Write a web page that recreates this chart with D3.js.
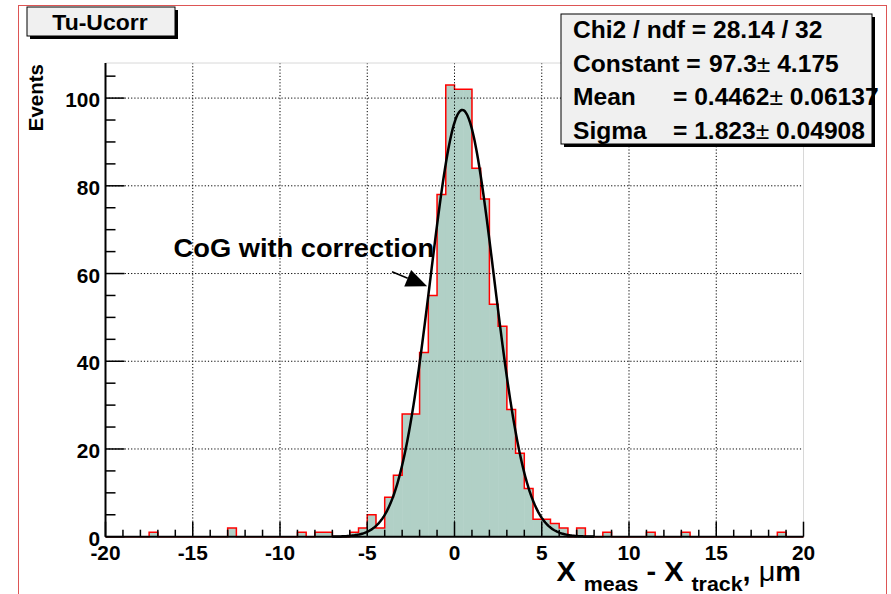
<!DOCTYPE html>
<html>
<head>
  <script src="https://cdn.jsdelivr.net/npm/d3@7"></script>
  <style>
    body { margin: 0; background: #fff; }
    text { font-family: "Liberation Sans", Arial, sans-serif; font-weight: bold; fill: #000; }
  </style>
</head>
<body>
  <div id="chartArea"></div>
  <script>
    // histogram: lower edge of each non-empty bin and its content
    let binWidth = 0.5;
    let binLow = [-17.5, -13, -9, -8, -7.5, -6, -5.5, -5, -4.5, -4, -3.5, -3, -2.5, -2, -1.5, -1, -0.5,
      0, 0.5, 1, 1.5, 2, 2.5, 3, 3.5, 4, 4.5, 5, 5.5, 6, 7, 8.5, 11, 13, 18.5];
    let counts = [1, 2, 1, 1, 1, 1, 2, 5, 2, 9, 14, 28, 28, 42, 55, 78, 103,
      102, 102, 84, 77, 53, 48, 29, 19, 11, 4, 4, 3, 2, 2, 1, 1, 1, 1];

    // gaussian fit parameters: constant, mean, sigma
    let fitPars = [97.3, 0.4462, 1.823];
    let fitRange = [-7, 8];

    let xTicks = [-20, -15, -10, -5, 0, 5, 10, 15, 20];
    let yTicks = [0, 20, 40, 60, 80, 100];
    let statsLabels = ['Chi2 / ndf = 28.14 / 32', 'Constant =', 'Mean', 'Sigma'];
    let statsValues = [null, ['97.3', '4.175'], ['= 0.4462', '0.06137'], ['= 1.823', '0.04908']];

    let W = 891, H = 594;
    let frame = { left: 105.5, right: 803.5, top: 63, bottom: 536.7 };

    let x = d3.scaleLinear().domain([-20, 20]).range([frame.left, frame.right]);
    let y = d3.scaleLinear().domain([0, 108]).range([frame.bottom, frame.top]);

    let svg = d3.select('#chartArea').append('svg')
      .attr('width', W)
      .attr('height', H);

    function txt(g, px, py, str, size, anchor) {
      return g.append('text')
        .attr('transform', `translate(${px},${py}) scale(1.07,1)`)
        .attr('font-size', size)
        .attr('text-anchor', anchor || 'start')
        .text(str);
    }

    // pad border
    svg.append('rect')
      .attr('x', 18.5).attr('y', 5.5)
      .attr('width', 868).attr('height', 600)
      .attr('fill', 'none')
      .attr('stroke', '#dd5555');

    // full bin table
    let nBins = 80;
    let full = d3.range(nBins).map(i => ({ lo: -20 + i * binWidth, c: 0 }));
    binLow.forEach((b, i) => {
      full[Math.round((b + 20) / binWidth)].c = counts[i];
    });

    svg.append('g').selectAll('rect')
      .data(full.filter(d => d.c > 0))
      .enter()
      .append('rect')
      .attr('x', d => x(d.lo))
      .attr('y', d => y(d.c))
      .attr('width', d => x(d.lo + binWidth) - x(d.lo) + 0.5)
      .attr('height', d => y(0) - y(d.c))
      .attr('fill', '#b1d0c6');

    // outline
    let pts = [[x(-20), y(0)]];
    full.forEach(d => {
      pts.push([x(d.lo), y(d.c)]);
      pts.push([x(d.lo + binWidth), y(d.c)]);
    });
    pts.push([x(20), y(0)]);
    svg.append('path')
      .attr('d', d3.line()(pts))
      .attr('fill', 'none')
      .attr('stroke', '#ff0000')
      .attr('stroke-width', 1.5);

    // grid
    let grid = svg.append('g')
      .attr('stroke', '#000')
      .attr('stroke-width', 1)
      .attr('stroke-dasharray', '1.2,2');
    grid.selectAll('.gx')
      .data(xTicks.slice(1, -1))
      .enter()
      .append('line')
      .attr('x1', d => x(d)).attr('x2', d => x(d))
      .attr('y1', frame.top).attr('y2', frame.bottom);
    grid.selectAll('.gy')
      .data(yTicks.slice(1))
      .enter()
      .append('line')
      .attr('x1', frame.left).attr('x2', frame.right)
      .attr('y1', d => y(d)).attr('y2', d => y(d));

    // frame top/right
    svg.append('path')
      .attr('d', `M${frame.left},${frame.top}H${frame.right}V${frame.bottom}`)
      .attr('fill', 'none')
      .attr('stroke', '#d8d8d8');

    // fit curve
    let gaus = v => fitPars[0] * Math.exp(-0.5 * Math.pow((v - fitPars[1]) / fitPars[2], 2));
    let fx = d3.range(fitRange[0], fitRange[1] + 0.001, 0.05);
    svg.append('path')
      .attr('d', d3.line().x(v => x(v)).y(v => y(gaus(v)))(fx))
      .attr('fill', 'none')
      .attr('stroke', '#000')
      .attr('stroke-width', 2.5);

    // axes
    let axes = svg.append('g').attr('stroke', '#000');
    axes.append('line')
      .attr('x1', frame.left).attr('x2', frame.right)
      .attr('y1', frame.bottom).attr('y2', frame.bottom)
      .attr('stroke-width', 2);
    axes.append('line')
      .attr('x1', frame.left).attr('x2', frame.left)
      .attr('y1', frame.top).attr('y2', frame.bottom)
      .attr('stroke-width', 2);

    let xMinor = d3.range(-20, 20.5, 1);
    axes.selectAll('.tx')
      .data(xMinor)
      .enter()
      .append('line')
      .attr('x1', d => x(d)).attr('x2', d => x(d))
      .attr('y1', frame.bottom)
      .attr('y2', d => frame.bottom - (d % 5 === 0 ? 15 : 7))
      .attr('stroke-width', 1.5);

    let yMinor = d3.range(0, 106, 5);
    axes.selectAll('.ty')
      .data(yMinor)
      .enter()
      .append('line')
      .attr('y1', d => y(d)).attr('y2', d => y(d))
      .attr('x1', frame.left)
      .attr('x2', d => frame.left + (d % 20 === 0 ? 19 : 10))
      .attr('stroke-width', 1.5);

    xTicks.forEach(t => txt(svg, x(t), 560, t, 19.5, 'middle'));
    yTicks.forEach(t => txt(svg, 100, y(t) + 9, t, 19.5, 'end'));

    // axis titles
    svg.append('text')
      .attr('transform', 'translate(43,64) rotate(-90)')
      .attr('font-size', 20.5)
      .attr('text-anchor', 'end')
      .text('Events');

    let xt = svg.append('text')
      .attr('transform', 'translate(801,581) scale(1.07,1)')
      .attr('text-anchor', 'end')
      .attr('font-size', 27);
    xt.append('tspan').text('X ');
    xt.append('tspan').attr('font-size', 20).attr('dy', 10).text('meas');
    xt.append('tspan').attr('dy', -10).text(' - X ');
    xt.append('tspan').attr('font-size', 20).attr('dy', 10).text('track');
    xt.append('tspan').attr('dy', -10).text(', ');
    xt.append('tspan').attr('font-weight', 'normal').text('\u03bc');
    xt.append('tspan').text('m');

    // annotation
    txt(svg, x(-16.1), y(63.8), 'CoG with correction', 25.5, 'start');
    let a0 = [x(-3.58), y(60.4)], a1 = [x(-1.57), y(57.1)];
    let ang = Math.atan2(a1[1] - a0[1], a1[0] - a0[0]);
    let hl = 21, hw = 9;
    let base = [a1[0] - hl * Math.cos(ang), a1[1] - hl * Math.sin(ang)];
    svg.append('line')
      .attr('x1', a0[0]).attr('y1', a0[1])
      .attr('x2', base[0]).attr('y2', base[1])
      .attr('stroke', '#000').attr('stroke-width', 1.5);
    svg.append('path')
      .attr('d', d3.line()([a1,
        [base[0] + hw * Math.sin(ang), base[1] - hw * Math.cos(ang)],
        [base[0] - hw * Math.sin(ang), base[1] + hw * Math.cos(ang)]]) + 'Z')
      .attr('fill', '#000');

    // stats box
    let sb = { x: 561, y: 14, w: 311, h: 130 };
    svg.append('rect')
      .attr('x', sb.x + 3).attr('y', sb.y + 3)
      .attr('width', sb.w).attr('height', sb.h)
      .attr('fill', '#000');
    svg.append('rect')
      .attr('x', sb.x).attr('y', sb.y)
      .attr('width', sb.w).attr('height', sb.h)
      .attr('fill', '#f0f0f0')
      .attr('stroke', '#000');
    let valX = [0, 709, 673, 673];
    statsLabels.forEach((s, i) => {
      let by = 38 + i * 33.7;
      txt(svg, 573, by, s, 23, 'start');
      let v = statsValues[i];
      if (v) {
        let t = txt(svg, valX[i], by, '', 23, 'start');
        t.append('tspan').text(v[0]);
        t.append('tspan').attr('font-weight', 'normal').text('\u00b1');
        t.append('tspan').text(' ' + v[1]);
      }
    });

    // title box
    svg.append('rect')
      .attr('x', 30).attr('y', 10)
      .attr('width', 148).attr('height', 29)
      .attr('fill', '#000');
    svg.append('rect')
      .attr('x', 27).attr('y', 7)
      .attr('width', 148).attr('height', 29)
      .attr('fill', '#f0f0f0')
      .attr('stroke', '#000');
    txt(svg, 100, 30, 'Tu-Ucorr', 21.5, 'middle');
  </script>
</body>
</html>
